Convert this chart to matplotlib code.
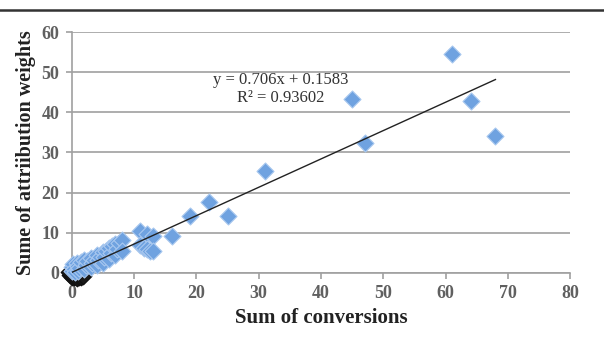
import numpy as np
import matplotlib.pyplot as plt
from matplotlib.lines import Line2D

# conversions vs summed attribution weights
conv = [0, 0, 0.2, 0.4, 0.5, 0.8, 1, 1, 1.2, 1.5, 2, 2, 2.2, 2.5, 3, 3, 3.3, 3.5,
        4, 4, 4.2, 4.5, 5, 5, 5.2, 5.5, 6, 6, 6.3, 6.5, 7, 7, 7.3, 7.5, 8, 8,
        11, 11, 11.5, 12, 12, 12.5, 13, 13, 16, 19, 22, 25, 31, 45, 47, 61, 64, 68]
weights = [1.5, 0.5, 2.2, 1.0, 0.3, 2.5, 1.8, 0.6, 1.2, 2.8, 3.2, 1.0, 2.0, 3.0, 3.8, 1.5, 2.4, 3.3,
           4.5, 2.0, 3.2, 4.0, 5.2, 2.6, 4.0, 5.5, 6.3, 3.5, 5.0, 6.8, 7.3, 4.5, 6.0, 7.5, 8.3, 5.5,
           10.5, 7.0, 6.3, 9.8, 6.0, 5.5, 9.3, 5.5, 9.2, 14.2, 17.7, 14.2, 25.5, 43.2, 32.3, 54.6, 42.7, 34.2]

# dense pile-up right at the origin (drawn dark, overlapping the axes)
origin_conv = [-0.3, 0, 0.2, 0.4, 0.6, 0.9, 1.2, 1.5, 1.8, -0.4, 0.1, 0.7]
origin_w = [-0.6, -1.0, -0.8, -1.1, -0.9, -1.2, -1.0, -1.1, -0.8, 0.2, 0.4, -0.3]

slope, intercept, r2 = 0.706, 0.1583, 0.93602

plt.rcParams['font.family'] = ['Liberation Serif', 'DejaVu Serif']

fig = plt.figure(figsize=(6.04, 3.37), dpi=100)
ax = fig.add_axes([0.119, 0.19, 0.825, 0.715])

grey = '#a0a0a0'
ax.scatter(origin_conv, origin_w, marker='D', s=70, color='#1a1a1a',
           edgecolor='#111111', zorder=2, clip_on=False)
ax.scatter(conv, weights, marker='D', s=75, color='#6fa2e0',
           edgecolor='#a9c8ef', linewidth=0.8, zorder=3, clip_on=False)

xs = np.array([0, max(conv)])
ax.plot(xs, slope * xs + intercept, color='#222222', linewidth=1.0, zorder=4)

ax.text(0.42, 0.80, f"y = {slope}x + {intercept}", transform=ax.transAxes,
        ha='center', va='center', fontsize=12, color='#333333')
ax.text(0.42, 0.725, f"R² = {r2}", transform=ax.transAxes,
        ha='center', va='center', fontsize=12, color='#333333')

ax.set_xlim(0, 80)
ax.set_ylim(0, 60)
ax.set_xticks(range(0, 81, 10))
ax.set_yticks(range(0, 61, 10))
ax.grid(axis='y', color=grey, linewidth=1.2)
ax.set_axisbelow(True)
for side in ['top', 'right']:
    ax.spines[side].set_visible(False)
for side in ['left', 'bottom']:
    ax.spines[side].set_color(grey)
    ax.spines[side].set_linewidth(1.2)
ax.tick_params(colors=grey, labelcolor='#606060', labelsize=13, length=4, width=1.2, pad=5)
for lbl in ax.get_xticklabels() + ax.get_yticklabels():
    lbl.set_fontweight('bold')
ax.set_xlabel("Sum of conversions", fontsize=15, fontweight='bold', color='#222222', labelpad=4)
ax.set_ylabel("Sume of attriibution weights", fontsize=14.5, fontweight='bold', color='#222222', labelpad=4)

fig.add_artist(Line2D([0, 1], [0.97, 0.97], color='#333333', linewidth=1.8))

fig.savefig('out.png', dpi=100)
